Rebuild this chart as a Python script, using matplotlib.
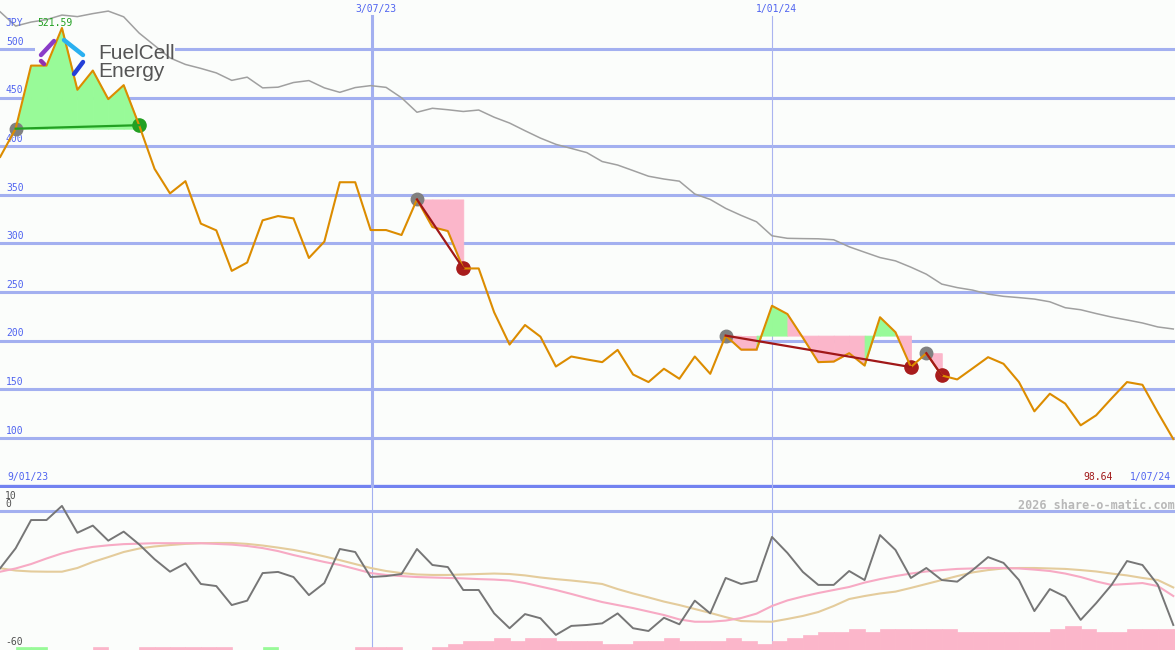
import numpy as np
import matplotlib
matplotlib.use("Agg")
from matplotlib import pyplot as plt
from matplotlib.lines import Line2D

# weekly closes (JPY), one per week starting 9/01/23
price = [389.0, 418.0, 482.9, 482.9, 521.59, 458.0, 477.8, 448.4, 462.8, 421.6,
         376.7, 351.4, 364.0, 320.3, 313.4, 271.7, 280.3, 323.7, 328.1, 325.7,
         285.0, 301.8, 362.9, 362.9, 313.7, 313.7, 308.6, 345.2, 316.8, 312.7,
         274.2, 274.2, 229.1, 195.9, 216.0, 204.0, 173.3, 183.6, 180.6, 177.8,
         190.4, 165.1, 157.3, 171.0, 160.7, 183.6, 165.8, 205.1, 190.7, 190.7,
         235.8, 227.3, 203.0, 177.8, 178.4, 187.0, 174.3, 224.0, 208.6, 172.7,
         187.0, 164.1, 160.0, 171.4, 182.9, 176.1, 157.3, 127.2, 145.3, 135.1,
         112.8, 123.1, 140.5, 157.3, 154.5, 126.0, 98.64]

# long moving average (grey)
avg = [538.2, 523.6, 527.7, 530.2, 534.9, 533.3, 536.4, 539.0, 533.1, 516.4,
       503.6, 490.8, 484.1, 480.0, 475.4, 467.7, 471.0, 460.0, 460.7, 465.5,
       467.5, 460.0, 455.4, 460.3, 462.3, 460.5, 449.8, 434.9, 439.0, 437.5,
       435.7, 437.2, 429.8, 423.8, 415.9, 408.3, 401.9, 397.7, 393.4, 384.2,
       380.6, 374.9, 369.1, 366.2, 364.0, 350.8, 345.2, 336.0, 328.8, 322.2,
       307.8, 305.2, 304.9, 304.7, 303.7, 296.5, 290.9, 285.4, 282.0, 275.5,
       268.3, 258.1, 254.5, 251.9, 247.8, 245.5, 244.2, 242.7, 239.9, 233.8,
       231.7, 227.8, 224.2, 221.2, 218.1, 214.0, 211.9]

# oscillator panel
osc = [-24.7, -16.1, -3.9, -3.9, 2.2, -9.4, -6.3, -12.8, -8.9, -14.4,
       -20.8, -26.2, -22.6, -31.5, -32.4, -40.6, -38.7, -26.8, -26.3, -28.5,
       -36.3, -31.1, -16.4, -17.7, -28.5, -28.1, -27.2, -16.4, -23.3, -24.2,
       -34.1, -34.1, -44.2, -50.6, -44.5, -46.3, -53.5, -49.6, -49.2, -48.5,
       -44.2, -50.6, -51.8, -46.1, -48.9, -38.7, -44.2, -28.9, -31.5, -30.2,
       -11.2, -18.1, -26.3, -31.9, -31.9, -25.9, -29.8, -10.4, -16.8, -28.9,
       -24.6, -29.8, -30.5, -25.5, -19.9, -22.4, -29.8, -43.2, -33.7, -37.0,
       -47.0, -39.8, -31.9, -21.6, -23.3, -31.9, -49.2]
osc_pink = [-26.2, -24.8, -22.9, -20.5, -18.3, -16.6, -15.5, -14.8, -14.3, -14.1,
            -13.9, -13.9, -13.9, -13.9, -14.2, -14.5, -15.1, -16.0, -17.3, -19.0,
            -20.5, -22.0, -23.3, -25.0, -26.8, -27.6, -28.1, -28.5, -28.7, -28.9,
            -29.1, -29.4, -29.6, -30.0, -31.1, -32.6, -34.1, -35.8, -37.6, -39.3,
            -40.6, -41.9, -43.4, -44.9, -46.8, -47.8, -47.8, -47.3, -46.2, -44.3,
            -41.0, -38.6, -36.9, -35.4, -34.1, -32.8, -30.9, -29.4, -28.1, -27.0,
            -26.1, -25.5, -25.0, -24.8, -24.6, -24.6, -24.8, -25.3, -25.9, -27.0,
            -28.5, -30.4, -31.9, -31.5, -31.1, -32.4, -36.7]
osc_tan = [-24.7, -25.7, -26.1, -26.2, -26.2, -24.6, -22.0, -19.9, -17.7, -16.2,
           -15.3, -14.7, -14.2, -13.9, -13.8, -13.8, -14.2, -14.9, -15.8, -16.8,
           -18.1, -19.6, -21.2, -22.9, -24.6, -25.9, -26.8, -27.4, -27.6, -27.6,
           -27.4, -27.2, -27.0, -27.2, -27.8, -28.7, -29.4, -30.0, -30.7, -31.5,
           -33.7, -35.6, -37.3, -39.1, -40.6, -42.3, -44.0, -45.8, -47.5, -47.7,
           -47.8, -46.6, -45.3, -43.6, -41.0, -38.0, -36.7, -35.6, -34.8, -33.2,
           -31.5, -29.8, -28.1, -26.5, -25.5, -24.8, -24.6, -24.6, -24.8, -25.0,
           -25.5, -26.1, -27.0, -27.8, -28.9, -29.8, -33.0]
# bottom strip: + green, - pink
strip = [0, 1, 1, 0, 0, 0, -1, 0, 0, -1, -1, -1, -1, -1, -1, 0, 0, 1, 0, 0,
         0, 0, 0, -1, -1, -1, 0, 0, -1, -2, -3, -3, -4, -3, -4, -4, -3, -3, -3, -2,
         -2, -3, -3, -4, -3, -3, -3, -4, -3, -2, -3, -4, -5, -6, -6, -7, -6, -7, -7, -7,
         -7, -7, -6, -6, -6, -6, -6, -6, -7, -8, -7, -6, -6, -7, -7, -7, -7]

# trades: (entry week, exit week)
trades = [(1, 9), (27, 30), (47, 59), (60, 61)]

price_lines = [100, 150, 200, 250, 300, 350, 400, 450, 500]
date_lines = [(24.09, "3/07/23"), (50.0, "1/01/24")]

weeks = np.arange(len(price))

BG = "#fbfdfb"
GRID = "#a3b0f0"
BLUE_TXT = "#5064f0"
GREEN = "#98fa98"
PINK = "#fbb6ca"

fig = plt.figure(figsize=(11.75, 6.5), dpi=100)
fig.patch.set_facecolor(BG)
ax = fig.add_axes([0, 161.7 / 650, 1, 488.3 / 650])
ax2 = fig.add_axes([0, 0, 1, 161.7 / 650])
for a in (ax, ax2):
    a.set_facecolor(BG)
    a.set_xlim(-0.013, 76.11)
    a.set_xticks([])
    a.set_yticks([])
    for s in a.spines.values():
        s.set_visible(False)
ax.set_ylim(48, 550.4)
ax2.set_ylim(-60, 9.8)

mono = "DejaVu Sans Mono"

# grid
for v in price_lines:
    ax.axhline(v, color=GRID, lw=2.2, zorder=1)
    ax.annotate(str(v), (0.005, v), xycoords=("axes fraction", "data"),
                xytext=(0, 1.5), textcoords="offset points",
                fontsize=7, family=mono, color=BLUE_TXT, va="bottom", zorder=2)
ax.axhline(50, color="#7282f0", lw=2.4, zorder=1)
top = 1 - 16 / 488.3
ax.axvline(date_lines[0][0], ymax=top, color=GRID, lw=2.2, zorder=1)
ax.axvline(date_lines[1][0], ymax=top, color="#aab4f0", lw=0.8, zorder=1)
for xd, lab in date_lines:
    ax.annotate(lab, (xd, 1), xycoords=("data", "axes fraction"),
                xytext=(3, -3), textcoords="offset points", ha="center", va="top",
                fontsize=7, family=mono, color=BLUE_TXT)
    ax2.axvline(xd, color=GRID, lw=0.8, zorder=1)
ax2.axhline(0, color=GRID, lw=2.2, zorder=1)

# logo
ax.add_patch(plt.Rectangle((35 / 1175, 1 - 60 / 488.3), 140 / 1175, 22 / 488.3,
                           transform=ax.transAxes, color=BG, zorder=1.5, lw=0))
fig.text(98 / 1175, 1 - 59 / 650, "FuelCell", family="Liberation Sans", fontsize=15,
         color="#555555", zorder=2)
fig.text(98 / 1175, 1 - 77 / 650, "Energy", family="Liberation Sans", fontsize=15,
         color="#555555", zorder=2)
icon = [((41, 55), (54, 41), "#8a3cc8"), ((64, 40), (83, 55), "#2ab0f0"),
        ((83, 62), (74, 74), "#2440d8"), ((41, 61), (44, 64), "#9030b0")]
for (x0, y0), (x1, y1), c in icon:
    fig.add_artist(Line2D([x0 / 1175, x1 / 1175], [1 - y0 / 650, 1 - y1 / 650],
                          transform=fig.transFigure, color=c, lw=3.2,
                          solid_capstyle="round", zorder=2))

# moving average and price
ax.plot(weeks, avg, color="#a0a0a0", lw=1.1, zorder=3)

for e, x in trades:
    level = price[e]
    for k in range(e, x):
        col = GREEN if price[k + 1] > level else PINK
        ax.fill_between([k, k + 1], [price[k], price[k + 1]], level,
                        facecolor=col, edgecolor=col, lw=0.6, zorder=4)

for e, x in trades:
    win = price[x] > price[e]
    ax.plot(e, price[e], "o", ms=9, color="#808080", zorder=4.5)
    ax.plot(x, price[x], "o", ms=9.5, color="#22a022" if win else "#a81c1c", zorder=4.5)

ax.plot(weeks, price, color="#dc8c00", lw=1.5, zorder=5)

for e, x in trades:
    win = price[x] > price[e]
    ax.plot([e, x], [price[e], price[x]], color="#22a022" if win else "#a01818",
            lw=1.6, zorder=6)

# labels in main panel
ax.annotate("JPY", (0.005, 1), xycoords="axes fraction", xytext=(0, -13),
            textcoords="offset points", fontsize=7, family=mono, color=BLUE_TXT, va="top")
ax.annotate("%.2f" % max(price), (37 / 1175, 1), xycoords="axes fraction", xytext=(0, -13),
            textcoords="offset points", fontsize=7, family=mono, color="#22a022", va="top")
ax.annotate("9/01/23", (0.006, 50), xycoords=("axes fraction", "data"), xytext=(0, 3),
            textcoords="offset points", fontsize=7, family=mono, color=BLUE_TXT, va="bottom")
ax.annotate("%.2f" % min(price), (1083 / 1175, 50), xycoords=("axes fraction", "data"),
            xytext=(0, 3), textcoords="offset points", fontsize=7, family=mono,
            color="#a01818", va="bottom")
ax.annotate("1/07/24", (0.997, 50), xycoords=("axes fraction", "data"), xytext=(0, 3),
            textcoords="offset points", fontsize=7, family=mono, color=BLUE_TXT,
            va="bottom", ha="right")

# oscillator panel
ax3 = ax2.twinx()
ax3.set_ylim(0, 161.7 / 3)
ax3.set_axis_off()
heights = [abs(s) for s in strip]
colors = [GREEN if s > 0 else PINK for s in strip]
ax3.bar(weeks, heights, width=1, align="edge", color=colors, edgecolor=colors,
        lw=0.5, zorder=1)

ax2.plot(weeks, osc_tan, color="#e4cc9c", lw=1.5, zorder=3)
ax2.plot(weeks, osc_pink, color="#f7aac4", lw=1.5, zorder=3)
ax2.plot(weeks, osc, color="#767676", lw=1.4, zorder=4)

ax2.text(1018 / 1175, 1 - 11 / 161.7, "2026 share-o-matic.com", transform=ax2.transAxes,
         fontsize=8.5, family=mono, weight="bold", color="#b8b8b8", va="top")
ax2.text(5 / 1175, 1 - 3 / 161.7, "10", transform=ax2.transAxes, fontsize=7,
         family=mono, color="#505050", va="top")
ax2.text(5 / 1175, 1 - 11 / 161.7, "0", transform=ax2.transAxes, fontsize=7,
         family=mono, color="#505050", va="top")
ax2.text(5 / 1175, 1 - 149 / 161.7, "-60", transform=ax2.transAxes, fontsize=7,
         family=mono, color="#505050", va="top")

fig.savefig("out.png", dpi=100, facecolor=BG)
